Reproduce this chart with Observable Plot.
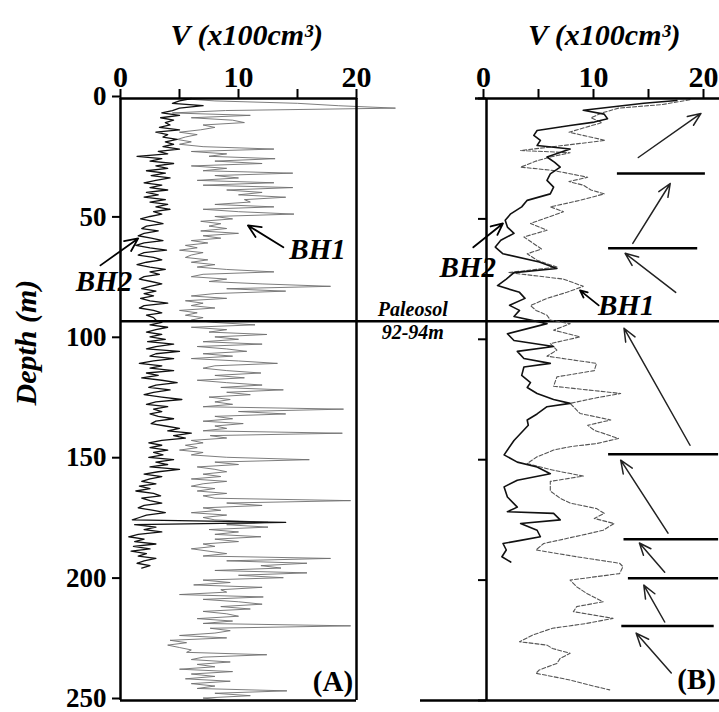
<!DOCTYPE html>
<html><head><meta charset="utf-8">
<script src="https://cdn.jsdelivr.net/npm/d3@7"></script>
<script src="https://cdn.jsdelivr.net/npm/@observablehq/plot@0.6"></script>
<style>
body{margin:0;background:#fff}
#wrap{position:relative;width:719px;height:712px;background:#fff}
#wrap svg{position:absolute;left:0;top:0}
</style>
</head><body><div id="wrap"></div>
<script>
// ---- axes ----
const vTicks = [0, 5, 10, 15, 20];
const depthTicks = [0, 50, 100, 150, 200, 250];
const paleosolDepth = 92.5;

// ---- Panel A: raw logs, sampled every 1 m from 0 m ----
const bh1AValues = [
 5, 8, 15, 18.5, 23.3, 8.9, 4.4, 11, 6, 9.5,
 10.5, 7, 8, 6.8, 5, 6.5, 5.5, 4.8, 6, 5,
 7, 13, 6, 9, 7.5, 13.1, 8, 12, 6, 9,
 7, 14.6, 8, 10, 6.5, 13, 7, 14.6, 9, 12,
 10, 14, 10.5, 11, 8, 13, 7, 10, 14.7, 8,
 9.5, 6.8, 8.5, 7.5, 9, 6.8, 10, 7, 8.5, 6,
 7.4, 5.5, 6.5, 5, 7, 6, 5.5, 7.4, 6, 8,
 6.5, 9, 13, 7, 6, 9, 7.5, 12, 17.8, 9,
 14, 8, 6, 9, 5.5, 7, 6, 8, 5, 6.5,
 5.5, 7, 6, 8, 11.4, 6, 9, 7.5, 12.4, 8,
 10, 7, 12, 6.5, 9, 10.7, 7, 9.5, 6, 10,
 13.3, 8, 7, 9, 11.9, 8, 10.5, 6.5, 9, 12,
 8.5, 13.8, 9, 11, 7.5, 9.3, 8, 9.5, 7, 18.9,
 10, 14, 8, 9.5, 7, 10.4, 8, 9, 7, 18.8,
 7.6, 9, 6, 7, 5.5, 6.5, 5, 7, 6, 9,
 16, 8, 10, 6.5, 8, 9, 7, 8.5, 6, 9,
 7, 6, 8, 6.5, 9, 7, 8, 19.5, 9, 12,
 7, 8.5, 6, 9, 7, 8, 12.5, 9, 12.5, 7.5,
 10, 8, 11.9, 8, 10, 7, 8, 6, 7.5, 9,
 7, 17.8, 9, 15.8, 11.9, 13.6, 8, 15.8, 10, 13.8,
 7, 9.3, 6.2, 12, 8.5, 9, 5, 12.1, 7, 10,
 12, 8.5, 11, 7, 9, 10, 6.5, 9.5, 7, 19.5,
 7.6, 9.3, 8, 5, 9, 4.2, 5.6, 4, 5, 6,
 5.6, 12.4, 7, 6, 9.3, 6.5, 8, 5, 9.5, 6,
 8, 5.5, 9.3, 6, 8, 6.5, 14.1, 8, 11, 7,
 9
];
const bh2AValues = [
 6, 5, 4.4, 7, 5, 4.4, 3.5, 5, 3.4, 4.5,
 3.8, 4.2, 3.3, 5, 3, 4, 3.6, 4.8, 3.8, 4.5,
 3.6, 5, 3.2, 4, 1.4, 3.5, 2.5, 4.5, 3, 4,
 2.2, 3.8, 2.6, 4.2, 3, 2, 3.5, 2.5, 4, 2.2,
 3.2, 2, 3.8, 2.5, 4, 3, 4.2, 2.8, 3.5, 2.5,
 1.7, 2.8, 3.6, 2.2, 1.8, 3.2, 2, 1.5, 2.6, 3.6,
 2, 1.3, 2.5, 3.9, 2, 1.5, 2.8, 3.5, 2.2, 1.4,
 2.5, 3.8, 2.5, 3.3, 2, 1.6, 2.6, 3.5, 2.5, 1.8,
 3, 2, 2.8, 1.7, 2.5, 4, 2, 1.6, 2.8, 3.5,
 2.2, 2.8, 3, 3.5, 2.5, 4, 3, 2.2, 3.5, 2.5,
 3.8, 2.3, 4.5, 3, 2.2, 5, 3, 2.5, 4.5, 2.8,
 1.6, 3.5, 2.5, 4.5, 2.2, 3.2, 1.8, 3.5, 4.8, 3,
 2.4, 4.2, 2.8, 2, 3.5, 5.2, 3, 2.2, 4, 2.8,
 3.5, 2.5, 3.2, 4.5, 3, 2.6, 3.8, 5, 4, 6,
 4.5, 5.5, 3.5, 2.4, 3.5, 2.5, 4, 2.8, 3.6, 2.4,
 4.5, 3, 4, 2.5, 5, 3.2, 2, 3.5, 2.5, 1.8,
 3, 1.6, 2.5, 1.3, 2.8, 3.4, 1.8, 2.5, 3.5, 2,
 1.5, 2.8, 3.8, 2.2, 1.6, 1, 14, 1.2, 3, 2,
 3.5, 1.5, 0.7, 2, 1.2, 3, 1.1, 2.5, 0.9, 2.2,
 1.5, 3, 2, 1.4, 2.5, 1.8
];

// ---- Panel B: smoothed logs ----
const bh2BDepth = [0.8, 2, 4.9, 6.5, 8.4, 9.8, 11.2, 13.3, 15.3, 17.4, 19.5, 21, 24.3, 26.5, 28.5, 31.3, 34, 36.8, 39.6, 42.3, 45, 47.9, 50.6, 53.4, 56, 58.9, 61.7, 64.5, 67.9, 70.6, 72.3, 75, 77.7, 80.5, 83, 85.9, 88, 90.5, 93.5, 97.7, 100.5, 103, 105, 108, 110, 111.5, 115, 118, 120, 122.5, 125, 126.6, 128, 131, 133.5, 135.7, 142, 148, 151, 153, 155.8, 158.5, 161.3, 165.5, 169.7, 171.6, 172.3, 175, 176.5, 179.3, 182, 183.5, 184.8, 187.5, 190.3, 192.5];
const bh2BValue = [17.3, 14.3, 8.8, 10.7, 11, 9.8, 7.6, 4.6, 4.3, 4.9, 4.6, 7.6, 5.5, 6.2, 6.7, 5.8, 5.5, 6.1, 5.8, 3.7, 3.2, 2.2, 1.7, 1.9, 2.5, 1.3, 0.8, 1.5, 4.8, 6.4, 2.5, 1.8, 1.0, 3.0, 3.5, 2.1, 3, 2.5, 5.5, 1.9, 2.5, 6.1, 2.8, 3.4, 5.8, 3.4, 3.2, 4, 3.7, 4.6, 6.1, 7.6, 5.5, 4.6, 3.7, 3.8, 2.5, 1.6, 2.8, 4.6, 5.8, 2.8, 1.6, 1.9, 2.8, 1.9, 6.1, 6.7, 3.1, 4.6, 4.9, 3.1, 1.5, 1.8, 1.4, 2.2];
const bh1BDepth = [0.5, 2.5, 4, 6, 8, 10, 12, 14, 17.4, 19.5, 21.6, 22.5, 24.3, 26, 28.5, 29.9, 32.7, 34.5, 36, 38, 39.6, 42.3, 45, 47, 49, 51.9, 54.7, 57.5, 60.3, 62.5, 64.5, 67.2, 70, 72.3, 75, 78, 80.5, 83, 86, 88, 90, 92, 93.5, 96.2, 99, 101.8, 104.5, 107, 110, 113, 115.6, 119.5, 122.5, 124.3, 126.6, 130.8, 133.5, 135.7, 137.8, 141.2, 143.3, 144.6, 146, 148.8, 151.6, 154.4, 156.8, 159, 163, 166, 168, 170.3, 172.3, 174.4, 176.5, 179.3, 181, 184.8, 187.5, 190.3, 193, 194.4, 197.3, 200, 202.8, 205.5, 209, 211, 213.1, 215.9, 218, 220, 222.8, 225.6, 227, 228.4, 230.4, 232.5, 234.6, 237.3, 238.7, 241.5, 244.3, 245.6];
const bh1BValue = [18.5, 16, 12, 10.5, 9.5, 10.5, 9, 7.5, 10.8, 7, 3.1, 7.6, 5.8, 4.5, 3.1, 6.1, 9.2, 7.5, 8.8, 9.5, 10.7, 8.5, 5.8, 7, 5.8, 4, 5.5, 3.4, 4.3, 5, 3.7, 4.6, 6.4, 2, 7, 8.8, 7.3, 5.5, 4, 4.5, 5.5, 5.8, 7.6, 6.1, 8.5, 5.8, 6.4, 5.5, 10, 9.8, 6.4, 6.1, 12.2, 10, 7.6, 8.5, 11.3, 9.2, 9.8, 12, 10, 7.6, 6.1, 4.6, 3.7, 6.1, 8.8, 5.8, 5.8, 6.7, 7.6, 10, 10.7, 9.8, 11.6, 10.6, 9, 5.2, 4.5, 8.2, 12.1, 12.4, 12.1, 7.6, 8.2, 9.1, 10.6, 8.2, 7.9, 11.5, 9.1, 6, 4.2, 3, 5.5, 6, 7.6, 6.7, 6.4, 4.8, 4.5, 7.6, 10, 11.2];

// ---- Panel B stratigraphic annotations ----
const boundaries = [
 {depth: 31.1, x1: 11.9, x2: 19.9}, {depth: 62.2, x1: 11.1, x2: 19.2},
 {depth: 147.7, x1: 11.1, x2: 21.1}, {depth: 183, x1: 12.5, x2: 21.1},
 {depth: 199.2, x1: 12.9, x2: 21.1}, {depth: 219.1, x1: 12.3, x2: 20.7}
];
const trendArrows = [
 {x1: 13.8, y1: 24.5, x2: 19.5, y2: 6.2}, {x1: 13.3, y1: 60.2, x2: 16.7, y2: 35.3},
 {x1: 17.2, y1: 80.5, x2: 12.6, y2: 64.3}, {x1: 18.5, y1: 144, x2: 12.5, y2: 95.4},
 {x1: 16.5, y1: 180.5, x2: 12.2, y2: 150.2}, {x1: 16.2, y1: 196.7, x2: 13.9, y2: 184.6},
 {x1: 16.2, y1: 217.4, x2: 14.3, y2: 202.1}, {x1: 16.8, y1: 238.6, x2: 13.6, y2: 222}
];

// ---- build rows ----
const bh1A = bh1AValues.map((v, i) => ({depth: i, v}));
const bh2A = bh2AValues.map((v, i) => ({depth: i, v}));
const bh1B = bh1BDepth.map((d, i) => ({depth: d, v: bh1BValue[i]}));
const bh2B = bh2BDepth.map((d, i) => ({depth: d, v: bh2BValue[i]}));

const serif = "'Liberation Serif', 'Times New Roman', 'DejaVu Serif', serif";
const baseStyle = {background: "transparent", fontFamily: serif, color: "#000", overflow: "visible"};
const bi = {fontFamily: serif, fontWeight: "bold", fontStyle: "italic", fill: "#000"};
const title = "V (x100cm³)";
const fmt = d => (d % 10 === 0 ? String(d) : "");

const plotA = Plot.plot({
  width: 719, height: 712,
  marginTop: 98, marginBottom: 12, marginLeft: 120, marginRight: 0,
  style: baseStyle,
  x: {domain: [0, 20], range: [120, 356], label: null},
  y: {domain: [0, 250], reverse: true, label: null},
  marks: [
    Plot.line(bh1A, {x: "v", y: "depth", stroke: "#6e6e6e", strokeWidth: 0.9}),
    Plot.line(bh2A, {x: "v", y: "depth", stroke: "#111", strokeWidth: 1.3}),
    Plot.ruleX([0, 20], {stroke: "#000", strokeWidth: 2.5}),
    Plot.ruleY([0, 250], {x1: 0, x2: 20, stroke: "#000", strokeWidth: 2.5}),
    Plot.ruleY([paleosolDepth], {stroke: "#000", strokeWidth: 2.5}),
    Plot.axisX(vTicks, {anchor: "top", tickSize: 10, tickPadding: 2, tickFormat: fmt, fontSize: 30, fontWeight: "bold", strokeWidth: 2, label: null}),
    Plot.axisY(depthTicks, {anchor: "left", tickSize: 8, tickPadding: 6, fontSize: 27, fontWeight: "bold", strokeWidth: 2, label: null, dy: -2}),
    Plot.text([title], {x: 10.7, frameAnchor: "top", dy: -75, fontSize: 30, ...bi}),
    Plot.text(["Depth (m)"], {frameAnchor: "left", dx: -94, dy: 6, rotate: -90, fontSize: 30, ...bi}),
    Plot.arrow([{x1: 13.8, y1: 61.8, x2: 10.8, y2: 52.7}, {x1: -1.7, y1: 69.3, x2: 1.5, y2: 58.1}],
      {x1: "x1", y1: "y1", x2: "x2", y2: "y2", stroke: "#000", strokeWidth: 1.8, headLength: 12, headAngle: 50}),
    Plot.text(["BH1"], {x: 16.7, y: 63, fontSize: 29, ...bi}),
    Plot.text(["BH2"], {x: -1.4, y: 76, fontSize: 29, ...bi}),
    Plot.text(["(A)"], {x: 18, y: 242.3, fontSize: 29, fontWeight: "bold", fontFamily: serif, fill: "#000"})
  ]
});

const plotB = Plot.plot({
  width: 719, height: 712,
  marginTop: 98, marginBottom: 12, marginLeft: 486, marginRight: 0,
  style: baseStyle,
  x: {domain: [0, 20], range: [486, 706], label: null},
  y: {domain: [0, 250], reverse: true, label: null},
  marks: [
    Plot.line(bh1B, {x: "v", y: "depth", stroke: "#555", strokeWidth: 1.1, strokeDasharray: "4,2"}),
    Plot.line(bh2B, {x: "v", y: "depth", stroke: "#111", strokeWidth: 1.6}),
    Plot.ruleX([0], {stroke: "#000", strokeWidth: 2.5}),
    Plot.ruleY([0], {x1: -1, x2: 21.2, stroke: "#000", strokeWidth: 2.5}),
    Plot.ruleY([250], {x1: -6, x2: 21.2, stroke: "#000", strokeWidth: 2.5}),
    Plot.axisX(vTicks, {anchor: "top", tickSize: 10, tickPadding: 2, tickFormat: fmt, fontSize: 30, fontWeight: "bold", strokeWidth: 2, label: null, dx: -3}),
    Plot.axisY(depthTicks, {anchor: "left", tickSize: 8, tickFormat: () => "", strokeWidth: 2, label: null}),
    Plot.ruleY(boundaries, {y: "depth", x1: "x1", x2: "x2", stroke: "#000", strokeWidth: 2.5}),
    Plot.arrow(trendArrows, {x1: "x1", y1: "y1", x2: "x2", y2: "y2", stroke: "#222", strokeWidth: 1.5, headLength: 14, headAngle: 45}),
    Plot.text([title], {x: 10.7, frameAnchor: "top", dy: -75, fontSize: 30, ...bi}),
    Plot.arrow([{x1: -1.2, y1: 61.8, x2: 1.5, y2: 51.9}, {x1: 10.2, y1: 85.9, x2: 8.5, y2: 79.7}],
      {x1: "x1", y1: "y1", x2: "x2", y2: "y2", stroke: "#000", strokeWidth: 1.8, headLength: 12, headAngle: 50}),
    Plot.text(["BH2"], {x: -1.7, y: 70.1, fontSize: 29, ...bi}),
    Plot.text(["BH1"], {x: 12.7, y: 85.9, fontSize: 29, ...bi}),
    Plot.text(["Paleosol"], {x: -6.7, y: 87.6, fontSize: 20, ...bi}),
    Plot.text(["92-94m"], {x: -6.7, y: 97.1, fontSize: 20, ...bi}),
    Plot.text(["(B)"], {x: 19.1, y: 241.5, fontSize: 29, fontWeight: "bold", fontFamily: serif, fill: "#000"})
  ]
});

const wrap = document.getElementById("wrap");
wrap.append(plotA, plotB);
</script>
</body></html>
